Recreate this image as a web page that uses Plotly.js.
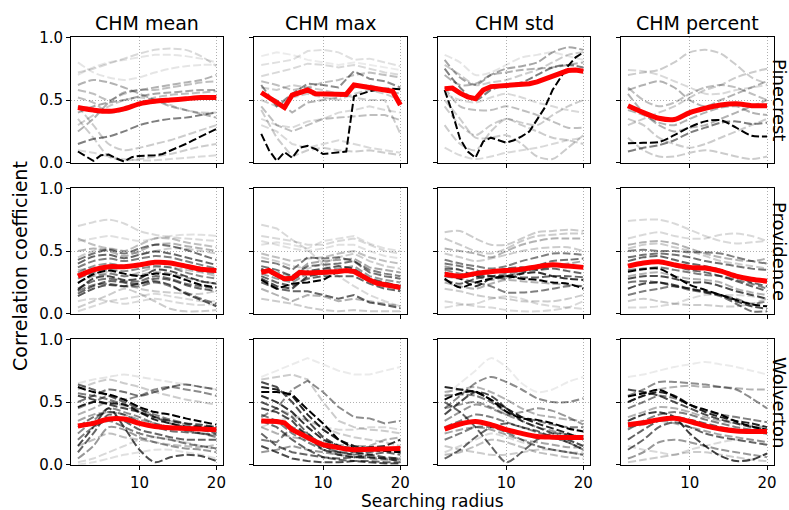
<!DOCTYPE html>
<html>
<head>
<meta charset="utf-8">
<script src="https://cdn.plot.ly/plotly-3.0.1.min.js"></script>
<style>html,body{margin:0;padding:0;background:#fff}#chart{width:789px;height:510px}</style>
</head>
<body>
<div id="chart"></div>
<script>
// ---------------- DATA ----------------
const radiusCoarse = [2,4,6,8,10,12,14,16,18,20];
const radiusFine = [2,3,4,5,6,7,8,9,10,11,12,13,14,15,16,17,18,19,20];
const siteNames = ["Pinecrest","Providence","Wolverton"];
const metricNames = ["CHM mean","CHM max","CHM std","CHM percent"];
const xTickVals = [10,20];
const xTickText = ["10","20"];
const yTickVals = [0,0.5,1];
const yTickText = ["0.0","0.5","1.0"];

// Pinecrest - CHM mean
const pinMeanRed = [0.44,0.42,0.41,0.43,0.47,0.49,0.50,0.51,0.52,0.52];
const pinMeanHi = [0.09,0.05,0.015,0.06,0.065,0.035,0.01,0.045,0.055,0.058,0.06,0.07,0.095,0.12,0.15,0.18,0.21,0.24,0.27];
const pinMeanGrey = [
 [0.15,0.19,0.21,0.25,0.30,0.33,0.35,0.36,0.38,0.40],
 [0.25,0.35,0.48,0.56,0.58,0.60,0.62,0.64,0.66,0.70],
 [0.62,0.66,0.64,0.60,0.55,0.50,0.45,0.42,0.39,0.36],
 [0.72,0.75,0.79,0.83,0.87,0.90,0.91,0.90,0.85,0.77],
 [0.70,0.76,0.80,0.82,0.84,0.86,0.86,0.85,0.83,0.80],
 [0.58,0.55,0.50,0.55,0.58,0.58,0.60,0.62,0.64,0.65],
 [0.45,0.30,0.15,0.10,0.12,0.15,0.18,0.22,0.26,0.30],
 [0.35,0.20,0.05,0.02,0.03,0.05,0.07,0.10,0.13,0.15],
 [0.52,0.48,0.40,0.42,0.48,0.52,0.54,0.55,0.56,0.57],
 [0.30,0.38,0.45,0.50,0.52,0.50,0.46,0.42,0.40,0.40],
 [0.10,0.08,0.05,0.03,0.02,0.02,0.03,0.04,0.05,0.06],
 [0.80,0.72,0.68,0.66,0.68,0.72,0.75,0.77,0.78,0.78],
 [0.40,0.45,0.48,0.50,0.53,0.55,0.56,0.57,0.58,0.58]
];
const pinMeanShade = [0.5,0.3,0.3,0.15,0.1,0.25,0.2,0.2,0.25,0.2,0.15,0.1,0.35];

// Pinecrest - CHM max
const pinMaxRed = [0.56,0.52,0.48,0.44,0.54,0.56,0.58,0.55,0.55,0.555,0.555,0.545,0.62,0.61,0.60,0.595,0.585,0.57,0.46];
const pinMaxHi = [0.23,0.10,0.015,0.085,0.04,0.12,0.135,0.11,0.07,0.075,0.08,0.09,0.53,0.55,0.57,0.58,0.59,0.59,0.585];
const pinMaxGrey = [
 [0.62,0.45,0.55,0.63,0.62,0.60,0.73,0.67,0.65,0.60],
 [0.78,0.80,0.82,0.89,0.90,0.88,0.82,0.83,0.80,0.77],
 [0.69,0.72,0.75,0.79,0.78,0.76,0.78,0.75,0.72,0.70],
 [0.45,0.30,0.25,0.30,0.35,0.36,0.37,0.38,0.38,0.34],
 [0.42,0.20,0.05,0.10,0.12,0.10,0.09,0.10,0.08,0.06],
 [0.60,0.58,0.62,0.60,0.58,0.55,0.52,0.50,0.50,0.23],
 [0.55,0.50,0.40,0.48,0.50,0.52,0.60,0.62,0.58,0.55],
 [0.30,0.25,0.15,0.12,0.15,0.18,0.15,0.12,0.10,0.08],
 [0.65,0.62,0.58,0.60,0.64,0.66,0.70,0.72,0.70,0.68],
 [0.50,0.45,0.52,0.55,0.52,0.50,0.55,0.58,0.55,0.50],
 [0.85,0.88,0.86,0.82,0.80,0.78,0.80,0.78,0.76,0.74],
 [0.35,0.30,0.28,0.33,0.35,0.40,0.42,0.45,0.42,0.40]
];
const pinMaxShade = [0.45,0.12,0.15,0.25,0.2,0.2,0.3,0.15,0.25,0.2,0.08,0.15];

// Pinecrest - CHM std
const pinStdRed = [0.59,0.595,0.555,0.525,0.51,0.58,0.607,0.61,0.612,0.615,0.622,0.63,0.645,0.665,0.69,0.715,0.735,0.74,0.73];
const pinStdHi = [0.58,0.40,0.19,0.09,0.04,0.17,0.20,0.18,0.16,0.18,0.21,0.25,0.34,0.44,0.58,0.68,0.77,0.84,0.88];
const pinStdGrey = [
 [0.82,0.68,0.62,0.70,0.75,0.77,0.80,0.88,0.92,0.90],
 [0.75,0.60,0.50,0.58,0.62,0.64,0.70,0.76,0.78,0.76],
 [0.70,0.62,0.63,0.70,0.72,0.74,0.75,0.76,0.78,0.80],
 [0.86,0.80,0.70,0.72,0.78,0.84,0.86,0.88,0.85,0.82],
 [0.60,0.45,0.42,0.42,0.45,0.42,0.38,0.33,0.28,0.28],
 [0.45,0.30,0.22,0.30,0.35,0.32,0.30,0.38,0.45,0.50],
 [0.50,0.35,0.20,0.20,0.22,0.15,0.05,0.03,0.12,0.22],
 [0.12,0.06,0.03,0.05,0.08,0.10,0.12,0.15,0.18,0.20],
 [0.30,0.15,0.10,0.25,0.35,0.30,0.25,0.20,0.18,0.15],
 [0.78,0.70,0.62,0.64,0.66,0.70,0.74,0.80,0.86,0.88],
 [0.55,0.50,0.48,0.52,0.55,0.52,0.48,0.45,0.42,0.40]
];
const pinStdShade = [0.35,0.5,0.3,0.1,0.25,0.2,0.2,0.15,0.2,0.2,0.15];

// Pinecrest - CHM percent
const pinPctRed = [0.455,0.40,0.355,0.345,0.40,0.435,0.46,0.47,0.455,0.455];
const pinPctHi = [0.155,0.16,0.165,0.22,0.285,0.33,0.34,0.28,0.215,0.21];
const pinPctGrey = [
 [0.09,0.12,0.14,0.18,0.24,0.28,0.32,0.33,0.31,0.32],
 [0.70,0.72,0.74,0.80,0.88,0.90,0.87,0.78,0.68,0.63],
 [0.74,0.73,0.70,0.65,0.60,0.55,0.55,0.58,0.60,0.62],
 [0.58,0.62,0.65,0.60,0.50,0.45,0.50,0.55,0.60,0.65],
 [0.60,0.50,0.45,0.48,0.55,0.60,0.62,0.60,0.55,0.50],
 [0.35,0.30,0.20,0.15,0.12,0.15,0.20,0.25,0.30,0.35],
 [0.20,0.10,0.05,0.05,0.08,0.10,0.08,0.05,0.03,0.05],
 [0.55,0.40,0.30,0.25,0.28,0.30,0.35,0.40,0.45,0.50],
 [0.30,0.35,0.40,0.45,0.52,0.58,0.62,0.68,0.72,0.75],
 [0.42,0.38,0.32,0.30,0.35,0.40,0.44,0.45,0.40,0.38]
];
const pinPctShade = [0.5,0.2,0.15,0.3,0.25,0.2,0.2,0.3,0.2,0.3];

// Providence - CHM mean
const proMeanRed = [0.30,0.35,0.375,0.375,0.39,0.41,0.405,0.38,0.355,0.345];
const proMeanHi = [0.245,0.315,0.345,0.32,0.30,0.32,0.31,0.27,0.23,0.21];
const proMeanGrey = [
 [0.70,0.73,0.75,0.72,0.66,0.63,0.61,0.60,0.59,0.58],
 [0.58,0.60,0.62,0.60,0.58,0.60,0.62,0.63,0.63,0.62],
 [0.43,0.48,0.51,0.48,0.52,0.55,0.54,0.51,0.47,0.43],
 [0.40,0.456,0.47,0.443,0.47,0.496,0.48,0.45,0.42,0.39],
 [0.37,0.42,0.44,0.42,0.44,0.46,0.45,0.42,0.39,0.36],
 [0.19,0.28,0.30,0.27,0.28,0.35,0.34,0.30,0.26,0.24],
 [0.16,0.22,0.26,0.25,0.24,0.28,0.27,0.23,0.20,0.18],
 [0.20,0.26,0.28,0.26,0.26,0.30,0.28,0.24,0.22,0.20],
 [0.14,0.20,0.23,0.22,0.24,0.26,0.23,0.16,0.11,0.06],
 [0.18,0.23,0.24,0.22,0.22,0.25,0.22,0.17,0.12,0.08],
 [0.45,0.50,0.52,0.50,0.48,0.50,0.52,0.52,0.50,0.48],
 [0.50,0.52,0.50,0.46,0.50,0.55,0.56,0.54,0.52,0.50],
 [0.60,0.55,0.52,0.50,0.55,0.60,0.60,0.57,0.55,0.53],
 [0.10,0.12,0.10,0.08,0.10,0.12,0.10,0.08,0.07,0.08],
 [0.02,0.06,0.10,0.12,0.14,0.16,0.14,0.12,0.10,0.10],
 [0.05,0.10,0.15,0.20,0.16,0.10,0.04,0.02,0.02,0.03],
 [0.30,0.32,0.30,0.25,0.20,0.18,0.17,0.16,0.16,0.18],
 [0.35,0.36,0.33,0.30,0.33,0.37,0.37,0.35,0.33,0.30],
 [0.28,0.33,0.35,0.34,0.36,0.38,0.37,0.33,0.30,0.28],
 [0.25,0.30,0.32,0.30,0.31,0.33,0.32,0.29,0.26,0.24],
 [0.33,0.38,0.40,0.38,0.38,0.41,0.40,0.37,0.34,0.32]
];
const proMeanShade = [0.15,0.12,0.55,0.6,0.5,0.7,0.6,0.55,0.65,0.5,0.2,0.3,0.25,0.15,0.15,0.2,0.2,0.25,0.45,0.35,0.4];

// Providence - CHM max
const proMaxRed = [0.33,0.345,0.31,0.28,0.283,0.33,0.325,0.325,0.33,0.333,0.337,0.345,0.337,0.30,0.27,0.243,0.23,0.22,0.21];
const proMaxHi = [0.27,0.20,0.24,0.25,0.27,0.34,0.33,0.26,0.23,0.20];
const proMaxGrey = [
 [0.71,0.68,0.59,0.51,0.40,0.30,0.22,0.15,0.10,0.06],
 [0.62,0.60,0.58,0.55,0.55,0.58,0.60,0.55,0.50,0.48],
 [0.55,0.57,0.55,0.52,0.58,0.60,0.62,0.56,0.52,0.50],
 [0.42,0.40,0.35,0.45,0.44,0.45,0.42,0.35,0.32,0.30],
 [0.38,0.35,0.30,0.38,0.39,0.40,0.42,0.33,0.30,0.28],
 [0.30,0.25,0.22,0.28,0.30,0.30,0.30,0.24,0.20,0.18],
 [0.25,0.20,0.18,0.18,0.15,0.12,0.15,0.09,0.07,0.045],
 [0.20,0.15,0.10,0.15,0.14,0.10,0.12,0.10,0.08,0.06],
 [0.12,0.10,0.08,0.05,0.03,0.02,0.03,0.02,0.02,0.02],
 [0.35,0.33,0.30,0.40,0.42,0.43,0.44,0.37,0.35,0.33],
 [0.48,0.45,0.42,0.44,0.45,0.48,0.50,0.45,0.42,0.40],
 [0.45,0.42,0.38,0.36,0.40,0.45,0.48,0.42,0.38,0.36],
 [0.32,0.28,0.25,0.32,0.35,0.36,0.38,0.30,0.27,0.25],
 [0.36,0.30,0.27,0.34,0.36,0.38,0.36,0.28,0.25,0.22],
 [0.28,0.22,0.20,0.30,0.32,0.33,0.34,0.27,0.24,0.22],
 [0.58,0.55,0.52,0.50,0.52,0.55,0.55,0.50,0.46,0.44]
];
const proMaxShade = [0.15,0.15,0.12,0.5,0.55,0.6,0.6,0.3,0.2,0.35,0.25,0.2,0.4,0.65,0.7,0.12];

// Providence - CHM std
const proStdRed = [0.315,0.30,0.32,0.335,0.345,0.355,0.375,0.39,0.38,0.37];
const proStdHi = [0.28,0.21,0.25,0.28,0.30,0.28,0.27,0.25,0.24,0.20];
const proStdGrey = [
 [0.33,0.28,0.22,0.28,0.30,0.32,0.33,0.30,0.28,0.27],
 [0.36,0.35,0.30,0.33,0.36,0.37,0.35,0.36,0.34,0.32],
 [0.40,0.38,0.35,0.30,0.28,0.32,0.38,0.42,0.43,0.44],
 [0.43,0.40,0.38,0.36,0.38,0.42,0.45,0.48,0.48,0.47],
 [0.30,0.28,0.25,0.22,0.17,0.17,0.18,0.20,0.22,0.22],
 [0.52,0.50,0.48,0.45,0.50,0.55,0.58,0.60,0.60,0.60],
 [0.65,0.66,0.60,0.55,0.55,0.60,0.65,0.66,0.67,0.66],
 [0.60,0.55,0.50,0.48,0.52,0.58,0.62,0.63,0.64,0.64],
 [0.20,0.18,0.15,0.13,0.12,0.10,0.10,0.10,0.12,0.15],
 [0.10,0.08,0.06,0.05,0.03,0.02,0.02,0.03,0.05,0.10],
 [0.05,0.07,0.08,0.12,0.14,0.12,0.08,0.06,0.05,0.04],
 [0.25,0.22,0.20,0.24,0.27,0.26,0.25,0.24,0.23,0.22],
 [0.38,0.35,0.30,0.27,0.30,0.33,0.35,0.38,0.40,0.42],
 [0.48,0.45,0.42,0.44,0.47,0.50,0.52,0.53,0.53,0.50],
 [0.35,0.32,0.30,0.30,0.32,0.34,0.36,0.38,0.38,0.37],
 [0.27,0.24,0.28,0.30,0.30,0.29,0.29,0.30,0.30,0.29]
];
const proStdShade = [0.8,0.6,0.55,0.5,0.5,0.3,0.2,0.2,0.2,0.15,0.15,0.3,0.35,0.2,0.45,0.6];

// Providence - CHM percent
const proPctRed = [0.38,0.405,0.415,0.39,0.37,0.365,0.34,0.30,0.275,0.26];
const proPctHi = [0.335,0.355,0.36,0.30,0.23,0.19,0.15,0.11,0.075,0.06];
const proPctGrey = [
 [0.74,0.75,0.75,0.72,0.67,0.62,0.58,0.56,0.57,0.58],
 [0.60,0.63,0.65,0.62,0.60,0.60,0.63,0.64,0.62,0.58],
 [0.50,0.51,0.50,0.50,0.49,0.49,0.48,0.45,0.42,0.40],
 [0.45,0.47,0.48,0.47,0.45,0.42,0.40,0.38,0.36,0.35],
 [0.42,0.45,0.46,0.43,0.40,0.38,0.35,0.30,0.25,0.22],
 [0.28,0.30,0.30,0.28,0.25,0.25,0.22,0.18,0.15,0.12],
 [0.20,0.24,0.25,0.23,0.20,0.18,0.15,0.10,0.06,0.04],
 [0.25,0.26,0.25,0.22,0.20,0.17,0.14,0.08,0.02,0.02],
 [0.15,0.18,0.20,0.22,0.19,0.17,0.15,0.12,0.08,0.10],
 [0.35,0.36,0.37,0.35,0.33,0.31,0.30,0.27,0.24,0.20],
 [0.52,0.55,0.56,0.53,0.50,0.46,0.42,0.40,0.38,0.36],
 [0.10,0.12,0.10,0.08,0.07,0.07,0.06,0.06,0.08,0.12],
 [0.05,0.05,0.06,0.08,0.12,0.15,0.15,0.15,0.14,0.12],
 [0.30,0.32,0.33,0.30,0.28,0.27,0.25,0.20,0.17,0.15],
 [0.55,0.57,0.58,0.56,0.52,0.48,0.45,0.43,0.42,0.44],
 [0.38,0.40,0.41,0.38,0.35,0.33,0.30,0.26,0.22,0.18]
];
const proPctShade = [0.15,0.15,0.5,0.55,0.6,0.7,0.7,0.55,0.5,0.5,0.2,0.2,0.15,0.3,0.3,0.6];

// Wolverton - CHM mean
const wolMeanRed = [0.31,0.33,0.365,0.365,0.33,0.305,0.295,0.29,0.285,0.28];
const wolMeanHi = [0.62,0.58,0.56,0.52,0.46,0.42,0.40,0.37,0.345,0.32];
const wolMeanGrey = [
 [0.46,0.50,0.49,0.48,0.42,0.36,0.33,0.305,0.305,0.30],
 [0.15,0.30,0.45,0.30,0.12,0.02,0.06,0.08,0.07,0.03],
 [0.64,0.60,0.55,0.50,0.45,0.38,0.33,0.30,0.28,0.25],
 [0.50,0.55,0.60,0.58,0.55,0.58,0.62,0.64,0.62,0.60],
 [0.45,0.50,0.55,0.52,0.55,0.60,0.62,0.60,0.58,0.55],
 [0.25,0.35,0.45,0.42,0.38,0.33,0.30,0.28,0.25,0.22],
 [0.10,0.25,0.40,0.35,0.28,0.25,0.22,0.20,0.20,0.20],
 [0.20,0.30,0.35,0.30,0.25,0.22,0.20,0.17,0.15,0.13],
 [0.05,0.15,0.30,0.28,0.22,0.18,0.15,0.13,0.12,0.10],
 [0.60,0.65,0.68,0.65,0.62,0.58,0.55,0.52,0.50,0.48],
 [0.65,0.68,0.70,0.72,0.70,0.68,0.66,0.64,0.62,0.60],
 [0.02,0.05,0.10,0.15,0.20,0.22,0.20,0.18,0.15,0.12],
 [0.00,0.02,0.05,0.08,0.10,0.12,0.12,0.10,0.08,0.05],
 [0.40,0.45,0.50,0.47,0.42,0.38,0.35,0.32,0.30,0.28],
 [0.35,0.40,0.42,0.40,0.36,0.33,0.30,0.27,0.25,0.23],
 [0.55,0.52,0.48,0.45,0.42,0.38,0.35,0.33,0.32,0.30],
 [0.15,0.20,0.25,0.22,0.20,0.18,0.16,0.15,0.14,0.16],
 [0.30,0.38,0.42,0.40,0.34,0.30,0.27,0.26,0.25,0.24],
 [0.57,0.55,0.52,0.48,0.44,0.40,0.36,0.33,0.30,0.27]
];
const wolMeanShade = [0.85,0.7,0.6,0.55,0.45,0.45,0.6,0.5,0.4,0.2,0.1,0.15,0.12,0.3,0.35,0.7,0.25,0.55,0.5];

// Wolverton - CHM max
const wolMaxRed = [0.35,0.35,0.345,0.335,0.28,0.25,0.215,0.185,0.16,0.145,0.133,0.125,0.12,0.12,0.125,0.13,0.13,0.13,0.13];
const wolMaxHi = [0.58,0.58,0.56,0.44,0.33,0.20,0.13,0.12,0.114,0.10];
const wolMaxGrey = [
 [0.38,0.45,0.60,0.67,0.58,0.46,0.38,0.37,0.33,0.35],
 [0.62,0.60,0.55,0.40,0.28,0.20,0.15,0.13,0.12,0.10],
 [0.55,0.50,0.42,0.30,0.20,0.15,0.13,0.14,0.15,0.20],
 [0.66,0.62,0.50,0.35,0.22,0.15,0.10,0.08,0.06,0.05],
 [0.45,0.42,0.35,0.22,0.12,0.08,0.06,0.06,0.05,0.03],
 [0.35,0.30,0.20,0.12,0.06,0.04,0.03,0.03,0.02,0.02],
 [0.25,0.15,0.10,0.08,0.06,0.05,0.06,0.08,0.10,0.08],
 [0.20,0.18,0.30,0.25,0.15,0.10,0.08,0.06,0.05,0.05],
 [0.15,0.10,0.05,0.03,0.02,0.02,0.03,0.02,0.01,0.01],
 [0.40,0.35,0.25,0.18,0.12,0.10,0.10,0.12,0.11,0.10],
 [0.68,0.70,0.72,0.68,0.50,0.35,0.30,0.28,0.27,0.25],
 [0.70,0.75,0.80,0.85,0.80,0.75,0.72,0.72,0.75,0.78],
 [0.30,0.35,0.38,0.36,0.30,0.28,0.28,0.30,0.30,0.28],
 [0.50,0.45,0.40,0.35,0.30,0.25,0.22,0.20,0.18,0.15],
 [0.30,0.25,0.22,0.20,0.18,0.16,0.15,0.15,0.20,0.22],
 [0.50,0.45,0.38,0.25,0.15,0.10,0.08,0.10,0.12,0.14],
 [0.10,0.12,0.15,0.12,0.10,0.08,0.06,0.05,0.04,0.04]
];
const wolMaxShade = [0.45,0.85,0.8,0.7,0.7,0.6,0.6,0.5,0.7,0.5,0.2,0.08,0.15,0.2,0.3,0.6,0.4];

// Wolverton - CHM std
const wolStdRed = [0.285,0.325,0.345,0.32,0.28,0.25,0.225,0.22,0.218,0.218];
const wolStdHi = [0.52,0.57,0.584,0.517,0.424,0.37,0.358,0.33,0.29,0.265];
const wolStdGrey = [
 [0.45,0.55,0.65,0.70,0.66,0.60,0.53,0.50,0.50,0.53],
 [0.62,0.60,0.58,0.52,0.45,0.38,0.33,0.29,0.25,0.20],
 [0.40,0.50,0.58,0.55,0.45,0.35,0.30,0.25,0.20,0.15],
 [0.50,0.42,0.30,0.15,0.02,0.10,0.20,0.25,0.24,0.22],
 [0.05,0.12,0.22,0.30,0.33,0.30,0.27,0.22,0.18,0.12],
 [0.30,0.35,0.40,0.38,0.34,0.30,0.26,0.22,0.18,0.12],
 [0.20,0.25,0.30,0.30,0.26,0.20,0.15,0.12,0.10,0.08],
 [0.55,0.56,0.55,0.50,0.42,0.38,0.35,0.32,0.30,0.30],
 [0.35,0.42,0.48,0.45,0.40,0.42,0.45,0.43,0.38,0.32],
 [0.15,0.12,0.10,0.08,0.08,0.10,0.12,0.12,0.10,0.08],
 [0.10,0.15,0.20,0.25,0.22,0.18,0.15,0.12,0.10,0.10],
 [0.55,0.65,0.75,0.85,0.78,0.65,0.58,0.60,0.66,0.70],
 [0.58,0.60,0.62,0.58,0.52,0.45,0.40,0.38,0.36,0.35],
 [0.25,0.28,0.30,0.28,0.24,0.20,0.18,0.16,0.14,0.14],
 [0.08,0.10,0.15,0.20,0.18,0.14,0.10,0.08,0.06,0.05],
 [0.45,0.48,0.50,0.46,0.40,0.35,0.30,0.27,0.24,0.22]
];
const wolStdShade = [0.45,0.85,0.7,0.6,0.6,0.5,0.5,0.5,0.4,0.2,0.15,0.08,0.3,0.35,0.25,0.4];

// Wolverton - CHM percent
const wolPctRed = [0.32,0.335,0.36,0.37,0.345,0.31,0.285,0.27,0.265,0.265];
const wolPctHi = [0.544,0.57,0.597,0.544,0.477,0.44,0.40,0.345,0.305,0.279];
const wolPctGrey = [
 [0.55,0.60,0.66,0.66,0.65,0.64,0.62,0.60,0.53,0.45],
 [0.50,0.55,0.60,0.62,0.63,0.62,0.62,0.61,0.60,0.60],
 [0.50,0.55,0.58,0.55,0.48,0.42,0.38,0.35,0.33,0.30],
 [0.35,0.40,0.42,0.38,0.25,0.15,0.07,0.03,0.04,0.09],
 [0.20,0.28,0.35,0.38,0.36,0.33,0.30,0.28,0.26,0.25],
 [0.12,0.20,0.30,0.34,0.30,0.25,0.22,0.20,0.18,0.16],
 [0.28,0.35,0.40,0.42,0.40,0.36,0.33,0.30,0.28,0.25],
 [0.45,0.50,0.55,0.53,0.48,0.43,0.40,0.38,0.36,0.34],
 [0.05,0.10,0.18,0.20,0.18,0.15,0.12,0.10,0.08,0.06],
 [0.02,0.04,0.06,0.08,0.10,0.10,0.08,0.06,0.04,0.03],
 [0.15,0.12,0.10,0.08,0.12,0.15,0.18,0.20,0.20,0.18],
 [0.70,0.72,0.75,0.78,0.80,0.82,0.80,0.78,0.75,0.72],
 [0.38,0.42,0.46,0.45,0.42,0.38,0.35,0.33,0.31,0.30],
 [0.60,0.58,0.55,0.50,0.45,0.40,0.36,0.33,0.30,0.28],
 [0.30,0.32,0.35,0.33,0.30,0.27,0.24,0.22,0.20,0.18]
];
const wolPctShade = [0.45,0.3,0.85,0.75,0.6,0.6,0.5,0.5,0.4,0.2,0.15,0.08,0.3,0.7,0.35];

// ---------------- BUILD ----------------
const panelData = [
 [pinMeanRed,pinMeanHi,pinMeanGrey,pinMeanShade],
 [pinMaxRed,pinMaxHi,pinMaxGrey,pinMaxShade],
 [pinStdRed,pinStdHi,pinStdGrey,pinStdShade],
 [pinPctRed,pinPctHi,pinPctGrey,pinPctShade],
 [proMeanRed,proMeanHi,proMeanGrey,proMeanShade],
 [proMaxRed,proMaxHi,proMaxGrey,proMaxShade],
 [proStdRed,proStdHi,proStdGrey,proStdShade],
 [proPctRed,proPctHi,proPctGrey,proPctShade],
 [wolMeanRed,wolMeanHi,wolMeanGrey,wolMeanShade],
 [wolMaxRed,wolMaxHi,wolMaxGrey,wolMaxShade],
 [wolStdRed,wolStdHi,wolStdGrey,wolStdShade],
 [wolPctRed,wolPctHi,wolPctGrey,wolPctShade]
];

const W = 789, H = 510;
const colL = [71, 254.3, 437.7, 621];
const colR = [223.3, 407.3, 590.3, 774];
const rowT = [37.3, 188.3, 339.3];
const rowB = [162.8, 313.8, 464.8];
const FONT = "DejaVu Sans, Arial, sans-serif";
const DASH = "8px,3px";

const xFor = a => a.length === radiusFine.length ? radiusFine : radiusCoarse;

const traces = [];
const layout = {
  width: W, height: H,
  margin: {l:0, r:0, t:0, b:0},
  paper_bgcolor: "#fff", plot_bgcolor: "#fff",
  showlegend: false,
  font: {family: FONT, color: "#000"},
  annotations: []
};

panelData.forEach((p, i) => {
  const r = Math.floor(i / 4), c = i % 4;
  const sfx = i === 0 ? "" : String(i + 1);
  const xa = "x" + sfx, ya = "y" + sfx;
  const isMax = c === 1;
  const shape = isMax ? "linear" : "spline";
  const [red, hi, grey, shade] = p;
  grey.forEach((g, k) => {
    traces.push({
      type: "scatter", mode: "lines", x: xFor(g), y: g, xaxis: xa, yaxis: ya,
      line: {color: "rgba(0,0,0," + shade[k] + ")", width: 2, dash: DASH, shape: shape, smoothing: 0.8},
      hoverinfo: "skip"
    });
  });
  traces.push({
    type: "scatter", mode: "lines", x: xFor(hi), y: hi, xaxis: xa, yaxis: ya,
    line: {color: "#000", width: 2, dash: DASH, shape: hi.length === radiusFine.length ? "linear" : shape, smoothing: 0.8},
    hoverinfo: "skip"
  });
  traces.push({
    type: "scatter", mode: "lines", x: xFor(red), y: red, xaxis: xa, yaxis: ya,
    line: {color: "#ff0000", width: 5, shape: red.length === radiusFine.length ? "linear" : "spline", smoothing: 0.8},
    hoverinfo: "skip"
  });

  const common = {
    showline: true, mirror: true, linecolor: "#000", linewidth: 1,
    ticks: "outside", ticklen: 4, tickwidth: 1, tickcolor: "#000",
    showgrid: true, gridcolor: "#b0b0b0", gridwidth: 1, griddash: "1px,2px",
    zeroline: false, fixedrange: true,
    tickfont: {family: FONT, size: 15, color: "#000"}
  };
  layout["xaxis" + sfx] = Object.assign({}, common, {
    domain: [colL[c] / W, colR[c] / W], anchor: ya,
    range: [1.1, 20.9], tickmode: "array", tickvals: xTickVals, ticktext: xTickText,
    showticklabels: r === 2
  });
  layout["yaxis" + sfx] = Object.assign({}, common, {
    domain: [1 - rowB[r] / H, 1 - rowT[r] / H], anchor: xa,
    range: [0, 1], tickmode: "array", tickvals: yTickVals, ticktext: yTickText,
    showticklabels: c === 0
  });
});

metricNames.forEach((m, c) => {
  layout.annotations.push({
    text: m, xref: "paper", yref: "paper",
    x: (colL[c] + colR[c]) / 2 / W, y: 1 - 23 / H,
    xanchor: "center", yanchor: "middle", showarrow: false,
    font: {family: FONT, size: 19, color: "#000"}
  });
});
siteNames.forEach((s, r) => {
  layout.annotations.push({
    text: s, xref: "paper", yref: "paper",
    x: 780 / W, y: 1 - ((rowT[r] + rowB[r]) / 2) / H,
    xanchor: "center", yanchor: "middle", textangle: 90, showarrow: false,
    font: {family: FONT, size: 18, color: "#000"}
  });
});
layout.annotations.push({
  text: "Correlation coefficient", xref: "paper", yref: "paper",
  x: 20 / W, y: 1 - 266 / H, xanchor: "center", yanchor: "middle",
  textangle: -90, showarrow: false, font: {family: FONT, size: 19, color: "#000"}
});
layout.annotations.push({
  text: "Searching radius", xref: "paper", yref: "paper",
  x: 432 / W, y: 1 - 501 / H, xanchor: "center", yanchor: "middle",
  showarrow: false, font: {family: FONT, size: 17, color: "#000"}
});

Plotly.newPlot("chart", traces, layout, {staticPlot: true, displayModeBar: false});
</script>
</body>
</html>
